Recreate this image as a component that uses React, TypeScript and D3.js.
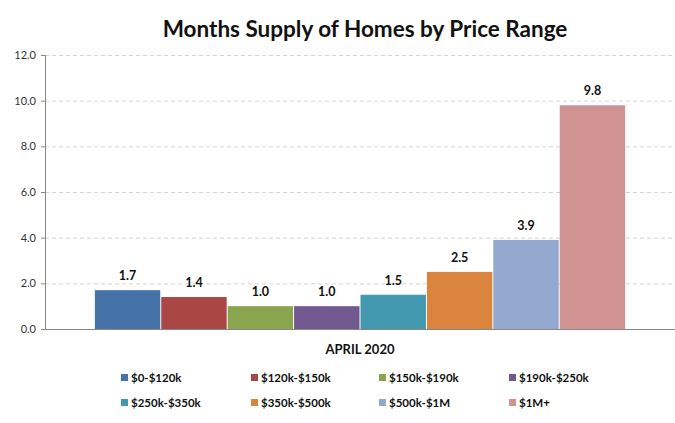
import { useEffect, useRef } from 'react'
import * as d3 from 'd3'

const categories = ['APRIL 2020']
const ranges = ['$0-$120k', '$120k-$150k', '$150k-$190k', '$190k-$250k', '$250k-$350k', '$350k-$500k', '$500k-$1M', '$1M+']
const supply = [1.7, 1.4, 1.0, 1.0, 1.5, 2.5, 3.9, 9.8]
const colors = ['#4572A7', '#AA4643', '#89A54E', '#71588F', '#4198AF', '#DB843D', '#93A9CF', '#D19392']
const yTicks = [0, 2, 4, 6, 8, 10, 12]

export default function App() {
  const svgRef = useRef<SVGSVGElement>(null)

  useEffect(() => {
    if (!svgRef.current) return
    const svg = d3.select(svgRef.current)
    svg.selectAll('*').remove()
    const W = 675, H = 423
    const m = { t: 55, r: 0, b: 94, l: 45 }
    const font = 'Lato, "Open Sans", sans-serif'

    const x0 = d3.scaleBand().domain(categories).range([m.l, W - m.r]).paddingInner(0).paddingOuter(0.094)
    const x1 = d3.scaleBand().domain(ranges).range([0, x0.bandwidth()]).paddingInner(0.015)
    const y = d3.scaleLinear().domain([0, 12]).range([H - m.b, m.t])

    // title
    svg.append('text').attr('x', 365).attr('y', 37).attr('text-anchor', 'middle')
      .attr('font-family', font).attr('font-weight', 'bold').attr('font-size', 22.5).attr('fill', '#111')
      .text('Months Supply of Homes by Price Range')

    // grid
    const g = svg.append('g')
    g.append('g').attr('transform', `translate(${m.l},0)`)
      .call(d3.axisLeft(y).tickValues(yTicks.slice(1)).tickSize(-(W - m.l - m.r)).tickFormat(() => ''))
      .call(s => s.select('.domain').remove())
      .selectAll('line').attr('stroke', '#d4d4d4').attr('stroke-dasharray', '4,3')

    // bars
    categories.forEach(c => {
      const cg = g.append('g').attr('transform', `translate(${x0(c)},0)`)
      ranges.forEach((r, i) => {
        cg.append('rect').attr('x', x1(r)!).attr('width', x1.bandwidth())
          .attr('y', y(supply[i])).attr('height', y(0) - y(supply[i])).attr('fill', colors[i])
        cg.append('text').attr('x', x1(r)! + x1.bandwidth() / 2).attr('y', y(supply[i]) - 10)
          .attr('text-anchor', 'middle').attr('font-family', font).attr('font-weight', 'bold')
          .attr('font-size', 12.5).attr('fill', '#111').text(supply[i].toFixed(1))
      })
    })

    // axes
    const ya = g.append('g').attr('transform', `translate(${m.l},0)`)
      .call(d3.axisLeft(y).tickValues(yTicks).tickSize(4).tickFormat(d => (+d).toFixed(1)))
    ya.select('.domain').attr('stroke', '#888')
    ya.selectAll('line').attr('stroke', '#888')
    ya.selectAll('text').attr('font-family', font).attr('font-size', 11).attr('fill', '#333').attr('x', -9)

    const xa = g.append('g').attr('transform', `translate(0,${y(0)})`)
      .call(d3.axisBottom(x0).tickSize(0).tickSizeOuter(0))
    xa.select('.domain').attr('stroke', '#888')
    xa.selectAll('text').attr('font-family', font).attr('font-size', 13).attr('font-weight', 'bold')
      .attr('fill', '#111').attr('dy', 0).attr('y', 25)

    // legend
    const cols = [121, 251, 379, 509]
    const rows = [378, 403]
    ranges.forEach((r, i) => {
      const lx = cols[i % 4], ly = rows[Math.floor(i / 4)]
      svg.append('rect').attr('x', lx).attr('y', ly - 4).attr('width', 7).attr('height', 7).attr('fill', colors[i])
      svg.append('text').attr('x', lx + 10).attr('y', ly + 4).attr('font-family', font).attr('font-weight', 'bold')
        .attr('font-size', 11.5).attr('fill', '#111').text(r)
    })
  }, [])

  return (
    <div style={{ position: 'absolute', left: 0, top: 0 }}>
      <svg ref={svgRef} width={675} height={423} style={{ display: 'block', background: '#fff' }} />
    </div>
  )
}
